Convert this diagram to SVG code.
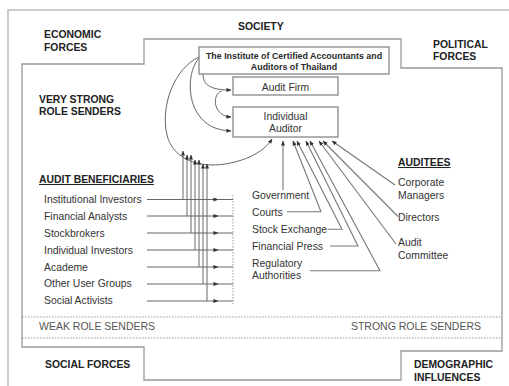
<svg xmlns="http://www.w3.org/2000/svg" width="509" height="386" viewBox="0 0 509 386">
<defs>
<marker id="ah" viewBox="0 0 6 6" refX="5.5" refY="3" markerWidth="5" markerHeight="5" markerUnits="userSpaceOnUse" orient="auto"><path d="M0,0.6 L6,3 L0,5.4 z" fill="#333"/></marker>
<style>
text{font-family:"Liberation Sans",Arial,sans-serif;}
.h{font-size:10.4px;font-weight:bold;fill:#222;}
.t{font-size:10.4px;fill:#333;}
.i{font-size:8.9px;font-weight:bold;fill:#2a2a2a;}
.g{font-size:10.5px;fill:#555;}
.box{fill:#fff;stroke:#888;stroke-width:1.3;}
.frame{fill:none;stroke:#999;stroke-width:1.3;}
.dot{stroke:#999;stroke-width:1;stroke-dasharray:1.5 1.5;fill:none;}
.c{fill:none;stroke:#666;stroke-width:1;}
.r{fill:none;stroke:#777;stroke-width:1.1;}
.a{marker-end:url(#ah);}
</style>
</defs>
<rect width="509" height="386" fill="#fff"/>
<g id="frames">
<polyline points="8,386 8,10 509,10" fill="none" stroke="#bbb" stroke-width="1.5"/>
<polygon class="frame" points="22,64 144,64 144,39 401,39 401,68 502,68 502,351 401,351 401,380 144,380 144,347 22,347"/>
<line class="dot" x1="22" y1="317" x2="502" y2="317"/>
<line class="dot" x1="22" y1="338" x2="502" y2="338"/>
</g>
<g id="forces">
<text class="h" x="44" y="38.3">ECONOMIC</text>
<text class="h" x="44" y="51">FORCES</text>
<text class="h" x="238" y="30">SOCIETY</text>
<text class="h" x="433" y="47.7">POLITICAL</text>
<text class="h" x="433" y="60">FORCES</text>
<text class="h" x="45" y="367.7">SOCIAL FORCES</text>
<text class="h" x="414" y="368">DEMOGRAPHIC</text>
<text class="h" x="414" y="381">INFLUENCES</text>
</g>
<g id="group-labels">
<text class="h" x="39" y="102.7">VERY STRONG</text>
<text class="h" x="39" y="115">ROLE SENDERS</text>
<text class="h" x="39" y="183" text-decoration="underline">AUDIT BENEFICIARIES</text>
<text class="h" x="398" y="166" text-decoration="underline">AUDITEES</text>
<text class="g" x="39" y="330">WEAK ROLE SENDERS</text>
<text class="g" x="481" y="330" text-anchor="end">STRONG ROLE SENDERS</text>
</g>
<g id="connectors">
<path class="c a" d="M203,74 C203,86 212,90 231,90"/>
<path class="c a" d="M222,91 C212,93 212,116 231,117"/>
<path class="c a" d="M199,58 C187,72 188,100 198,114 C206,126 216,130 231,131"/>
<path class="c a" d="M199,57 C175,68 160,105 167,135 C173,160 200,168 225,164 C250,160 265,150 272,139"/>
<path class="c a" d="M183,199.5 V151"/>
<path class="c a" d="M187,216 V155"/>
<path class="c a" d="M191,233 V155"/>
<path class="c a" d="M195,250 V160"/>
<path class="c a" d="M199,267 V160"/>
<path class="c a" d="M203,284 V164"/>
<path class="c a" d="M207,301 V164"/>
<g>
<path class="c a" d="M147,199.5 H218"/><line class="c" x1="217" y1="199.5" x2="233" y2="199.5"/>
<path class="c a" d="M147,216 H218"/><line class="c" x1="217" y1="216" x2="233" y2="216"/>
<path class="c a" d="M147,233 H218"/><line class="c" x1="217" y1="233" x2="233" y2="233"/>
<path class="c a" d="M147,250 H218"/><line class="c" x1="217" y1="250" x2="233" y2="250"/>
<path class="c a" d="M147,267 H218"/><line class="c" x1="217" y1="267" x2="233" y2="267"/>
<path class="c a" d="M147,284 H218"/><line class="c" x1="217" y1="284" x2="233" y2="284"/>
<path class="c a" d="M147,301 H218"/><line class="c" x1="217" y1="301" x2="233" y2="301"/>
</g>
<line class="dot" x1="233" y1="195" x2="233" y2="304"/>
<path class="r a" d="M283,190 V141"/>
<path class="r a" d="M287,211.7 H321 L293,141"/>
<path class="r a" d="M328,229.3 H342 L297,141"/>
<path class="r a" d="M330,246 H358 L306,141"/>
<path class="r a" d="M310,270.7 H380 L310,141"/>
<path class="r a" d="M395,185 L332,141"/>
<path class="r a" d="M398,216.5 L323,141"/>
<path class="r a" d="M396,244 L319,141"/>
</g>
<g id="institute">
<rect class="box" x="199" y="47" width="190" height="27"/>
<text class="i" x="294" y="59.3" text-anchor="middle">The Institute of Certified Accountants and</text>
<text class="i" x="294" y="70" text-anchor="middle">Auditors of Thailand</text>
</g>
<g id="audit-firm">
<rect class="box" x="233" y="77" width="105" height="18"/>
<text class="t" x="285.5" y="90.7" text-anchor="middle">Audit Firm</text>
</g>
<g id="individual-auditor">
<rect class="box" x="233" y="107" width="105" height="30"/>
<text class="t" x="285.5" y="120" text-anchor="middle">Individual</text>
<text class="t" x="285.5" y="132" text-anchor="middle">Auditor</text>
</g>
<g id="beneficiaries">
<text class="t" x="44" y="203">Institutional Investors</text>
<text class="t" x="44" y="220">Financial Analysts</text>
<text class="t" x="44" y="237">Stockbrokers</text>
<text class="t" x="44" y="254">Individual Investors</text>
<text class="t" x="44" y="270.7">Academe</text>
<text class="t" x="44" y="287">Other User Groups</text>
<text class="t" x="44" y="304">Social Activists</text>
</g>
<g id="strong-senders">
<text class="t" x="252" y="199.3">Government</text>
<text class="t" x="252" y="216">Courts</text>
<text class="t" x="252" y="233">Stock Exchange</text>
<text class="t" x="252" y="250">Financial Press</text>
<text class="t" x="252" y="266.5">Regulatory</text>
<text class="t" x="252" y="279">Authorities</text>
</g>
<g id="auditees">
<text class="t" x="398" y="186">Corporate</text>
<text class="t" x="398" y="199">Managers</text>
<text class="t" x="398" y="220.5">Directors</text>
<text class="t" x="398" y="246">Audit</text>
<text class="t" x="398" y="258.5">Committee</text>
</g>
</svg>
